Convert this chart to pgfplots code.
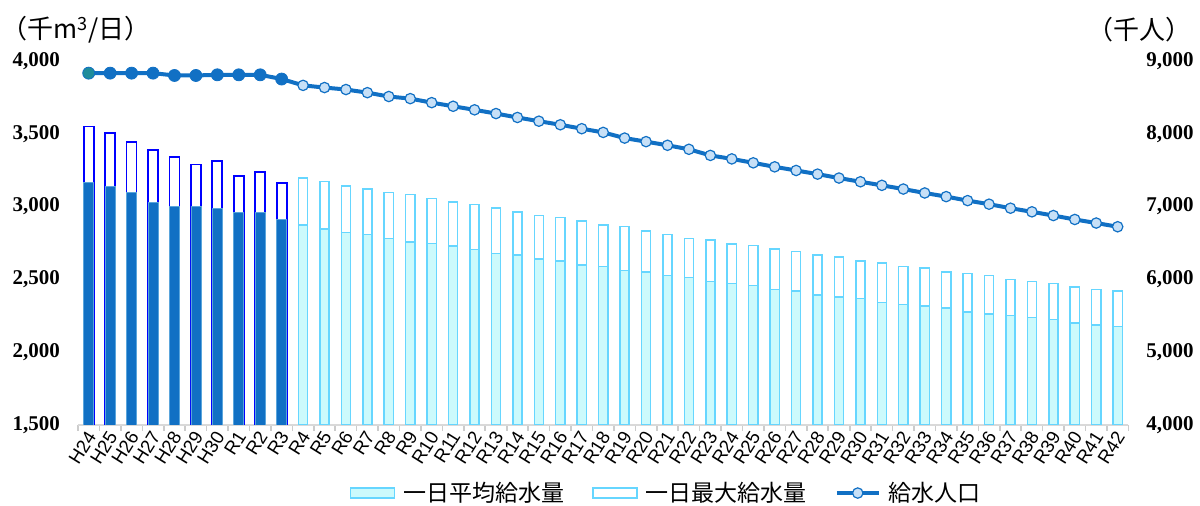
\documentclass[border=0pt]{standalone}
\usepackage{pgfplots}
\pgfplotsset{compat=1.18}
\usepackage{fontspec}
\setmainfont{Liberation Serif}
\newfontfamily\cjk{Noto Sans CJK JP}
\newfontfamily\arialf{Liberation Sans}
\definecolor{dblue}{RGB}{17,112,196}
\definecolor{hmax}{RGB}{0,0,255}
\definecolor{cyanB}{RGB}{102,214,255}
\definecolor{cyanF}{RGB}{204,250,252}
\definecolor{mkF}{RGB}{199,224,247}
\definecolor{edgeB}{RGB}{90,165,220}
\definecolor{teal1}{RGB}{30,140,155}
\begin{document}
\begin{tikzpicture}
\pgfplotsset{
  base/.style={
    at={(0,0)}, anchor=south west,
    scale only axis, width=525.2pt, height=182pt,
    xmin=-0.5, xmax=48.5, enlargelimits=false, clip=true,
    /pgf/number format/.cd, 1000 sep={,}, assume math mode=true, /pgfplots/.cd,
    yticklabel style={font=\bfseries\fontsize{10.5}{12}\selectfont},
    major y tick style={draw=none},
  }
}
\begin{axis}[base,
  ymin=1500, ymax=4000, ytick={1500,2000,...,4000},
  axis y line*=left, y axis line style={draw=none},
  axis x line*=bottom,
  x axis line style={draw=black!15, line width=0.8pt},
  xtick={0,...,48},
  xticklabels={H24,H25,H26,H27,H28,H29,H30,R1,R2,R3,R4,R5,R6,R7,R8,R9,R10,R11,R12,R13,R14,R15,R16,R17,R18,R19,R20,R21,R22,R23,R24,R25,R26,R27,R28,R29,R30,R31,R32,R33,R34,R35,R36,R37,R38,R39,R40,R41,R42},
  major x tick style={draw=none},
  minor xtick={-0.5,0.5,...,48.5},
  minor x tick style={draw=black!20, line width=0.8pt},
  minor tick length=3pt, xtick align=outside,
  xticklabel style={font=\arialf\fontsize{9.3}{11}\selectfont, rotate=58, anchor=east, inner sep=1pt, xshift=2pt, yshift=-1pt},
  yticklabel style={xshift=-5.5pt},
]
% maximum bars (drawn first)
\addplot[ybar, bar width=5pt, bar shift=0pt, fill=white, draw=hmax, line width=0.9pt] coordinates {
(0,3550)(1,3507)(2,3443)(3,3391)(4,3341)(5,3289)(6,3312)(7,3211)(8,3237)(9,3160)};
\addplot[ybar, bar width=4.6pt, bar shift=0pt, fill=white, draw=cyanB, line width=0.75pt] coordinates {
(10,3198)(11,3171)(12,3143)(13,3121)(14,3096)(15,3082)(16,3057)(17,3030)(18,3016)(19,2991)
(20,2964)(21,2939)(22,2925)(23,2900)(24,2875)(25,2862)(26,2834)(27,2809)(28,2782)(29,2770)
(30,2743)(31,2732)(32,2707)(33,2693)(34,2666)(35,2655)(36,2628)(37,2614)(38,2589)(39,2577)
(40,2550)(41,2539)(42,2525)(43,2498)(44,2484)(45,2473)(46,2448)(47,2432)(48,2420)};
% average bars
\addplot[ybar, bar width=5pt, bar shift=0pt, fill=dblue, draw=edgeB, line width=0.4pt] coordinates {
(0,3166)(1,3141)(2,3096)(3,3030)(4,3003)(5,3003)(6,2989)(7,2962)(8,2962)(9,2914)};
\addplot[ybar, bar width=4.6pt, bar shift=0pt, fill=cyanF, draw=cyanB, line width=0.75pt] coordinates {
(10,2875)(11,2846)(12,2821)(13,2807)(14,2782)(15,2757)(16,2746)(17,2730)(18,2705)(19,2679)
(20,2666)(21,2641)(22,2628)(23,2600)(24,2589)(25,2562)(26,2550)(27,2525)(28,2512)(29,2485)
(30,2473)(31,2459)(32,2432)(33,2420)(34,2393)(35,2379)(36,2368)(37,2341)(38,2329)(39,2316)
(40,2302)(41,2277)(42,2263)(43,2252)(44,2239)(45,2225)(46,2200)(47,2186)(48,2175)};
\end{axis}
\begin{axis}[base,
  ymin=4000, ymax=9000, ytick={4000,5000,...,9000},
  axis y line*=right, y axis line style={draw=none},
  axis x line=none,
  yticklabel style={xshift=5.5pt},
  legend columns=3,
  legend style={at={(0.561,-0.187)}, anchor=center, draw=none, fill=none,
    font=\cjk\fontsize{11.5}{13}\selectfont,
    /tikz/every even column/.append style={column sep=12pt},
    /tikz/every odd column/.append style={column sep=2pt},
    inner sep=0pt, cells={anchor=west}},
]
\addlegendimage{legend image code/.code={\draw[fill=cyanF, draw=cyanB, line width=0.75pt] (0pt,-2.5pt) rectangle (22pt,2.5pt);}}
\addlegendentry{一日平均給水量}
\addlegendimage{legend image code/.code={\draw[fill=white, draw=cyanB, line width=0.75pt] (0pt,-2.5pt) rectangle (22pt,2.5pt);}}
\addlegendentry{一日最大給水量}
\addlegendimage{legend image code/.code={\draw[dblue, line width=2pt] (0pt,0pt) -- (21pt,0pt); \draw[fill=mkF, draw=dblue, line width=0.6pt] (10.5pt,0pt) circle (2.6pt);}}
\addlegendentry{給水人口}
\addplot[dblue, line width=2pt, mark=none, forget plot] coordinates {
(0,8833)(1,8833)(2,8833)(3,8833)(4,8801)(5,8801)(6,8810)(7,8810)(8,8810)(9,8752)
(10,8665)(11,8635)(12,8608)(13,8565)(14,8512)(15,8483)(16,8428)(17,8378)(18,8329)(19,8278)
(20,8224)(21,8173)(22,8124)(23,8070)(24,8019)(25,7941)(26,7892)(27,7842)(28,7787)(29,7703)
(30,7655)(31,7601)(32,7546)(33,7496)(34,7446)(35,7392)(36,7341)(37,7292)(38,7241)(39,7187)
(40,7137)(41,7082)(42,7033)(43,6978)(44,6928)(45,6877)(46,6823)(47,6774)(48,6723)};
\addplot[only marks, mark=*, mark size=3pt, mark options={fill=dblue, draw=dblue}, forget plot] coordinates {
(1,8833)(2,8833)(3,8833)(4,8801)(5,8801)(6,8810)(7,8810)(8,8810)(9,8752)};
\addplot[only marks, mark=*, mark size=3pt, mark options={fill=teal1, draw=dblue, line width=0.4pt}, forget plot] coordinates {(0,8833)};
\addplot[only marks, mark=*, mark size=2.6pt, mark options={fill=mkF, draw=dblue, line width=0.6pt}, forget plot] coordinates {
(10,8665)(11,8635)(12,8608)(13,8565)(14,8512)(15,8483)(16,8428)(17,8378)(18,8329)(19,8278)
(20,8224)(21,8173)(22,8124)(23,8070)(24,8019)(25,7941)(26,7892)(27,7842)(28,7787)(29,7703)
(30,7655)(31,7601)(32,7546)(33,7496)(34,7446)(35,7392)(36,7341)(37,7292)(38,7241)(39,7187)
(40,7137)(41,7082)(42,7033)(43,6978)(44,6928)(45,6877)(46,6823)(47,6774)(48,6723)};
\end{axis}
\node[font=\cjk\fontsize{13}{15}\selectfont, inner sep=0pt] at (-1pt,197.5pt) {（千m\textsuperscript{3}/日）};
\node[font=\cjk\fontsize{13}{15}\selectfont, inner sep=0pt] at (530.5pt,197.5pt) {（千人）};
\pgfresetboundingbox
\path[use as bounding box] (-39pt,-40.5pt) rectangle (561pt,212.5pt);
\end{tikzpicture}
\end{document}
